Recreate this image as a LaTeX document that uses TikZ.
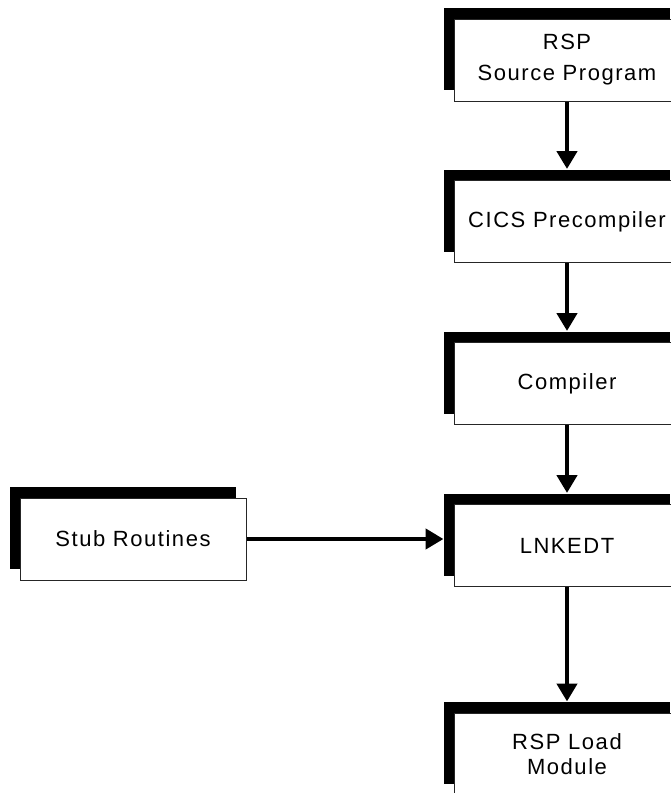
\documentclass[tikz,border=0pt]{standalone}
\usepackage{fontspec}
\setmainfont{Liberation Sans}[LetterSpace=7]
\usetikzlibrary{shadows,arrows.meta}
\tikzset{
  procbox/.style={draw=black!85, line width=1pt, fill=white,
    minimum width=226pt, minimum height=82pt, inner sep=0pt, align=center,
    font=\fontsize{22}{25}\selectfont,
    drop shadow={shadow xshift=-10pt, shadow yshift=11pt, fill=black, opacity=1}},
  flow/.style={line width=4.5pt, -{Triangle[length=18pt,width=20pt]}}
}
\begin{document}
\begin{tikzpicture}[x=1pt,y=-1pt]
\clip (0,0) rectangle (671,793);
\fill[white] (0,0) rectangle (671,793);
\node[procbox, font=\fontsize{22}{31}\selectfont] (b1) at (567,60) {RSP\\Source Program};
\node[procbox] (b2) at (567,221.5) {CICS Precompiler};
\node[procbox] (b3) at (567,383.5) {Compiler};
\node[procbox] (b4) at (567,545.5) {LNKEDT};
\node[procbox] (b5) at (567,754) {RSP Load\\Module};
\node[procbox] (stub) at (133,539) {Stub Routines};
\coordinate (b4s) at ([xshift=-10pt]b4.west);
\draw[flow] (b1.south) -- ([yshift=11pt]b2.north);
\draw[flow] (b2.south) -- ([yshift=11pt]b3.north);
\draw[flow] (b3.south) -- ([yshift=11pt]b4.north);
\draw[flow] (b4.south) -- ([yshift=11pt]b5.north);
\draw[flow] (stub.east) -- (stub.east -| b4s);
\end{tikzpicture}
\end{document}
